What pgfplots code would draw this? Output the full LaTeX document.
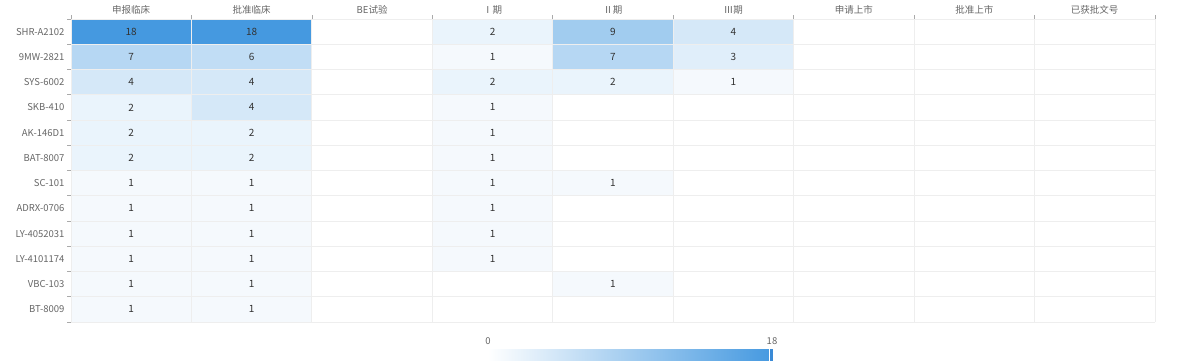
\documentclass[border=0pt]{standalone}
\usepackage{pgfplots}
\pgfplotsset{compat=1.18}
\usepackage{fontspec}
\setmainfont{Noto Sans CJK SC}
\definecolor{gridc}{HTML}{EEEEEE}
\definecolor{tickc}{HTML}{AAAAAA}
\definecolor{labc}{HTML}{666666}
\definecolor{numc}{HTML}{333333}
\definecolor{handlec}{RGB}{58,138,214}
\pgfplotsset{/pgf/number format/assume math mode=true}
\begin{document}
\begin{tikzpicture}
\begin{axis}[
  at={(71pt,38pt)}, anchor=south west,
  scale only axis, width=1084pt, height=303pt,
  xmin=-0.5, xmax=8.5, ymin=-0.5, ymax=11.5, y dir=reverse,
  xtick={0,...,8},
  xticklabels={申报临床,批准临床,BE试验,Ⅰ期,Ⅱ期,Ⅲ期,申请上市,批准上市,已获批文号},
  ytick={0,...,11},
  yticklabels={SHR-A2102,9MW-2821,SYS-6002,SKB-410,AK-146D1,BAT-8007,SC-101,ADRX-0706,LY-4052031,LY-4101174,VBC-103,BT-8009},
  xticklabel pos=upper,
  xtick pos=right, ytick pos=left,
  minor xtick={-0.5,0.5,...,8.5}, minor ytick={-0.5,0.5,...,11.5},
  xminorgrids, yminorgrids,
  minor grid style={gridc, line width=0.8pt},
  major tick length=0pt, minor tick length=4pt,
  tick align=outside,
  every minor tick/.append style={tickc, line width=0.6pt},
  axis line style={draw=none},
  axis on top,
  ticklabel style={labc, font=\fontsize{9.5}{11}\selectfont},
  xticklabel style={yshift=1pt},
  yticklabel style={xshift=-3pt},
  colormap={bluemap}{rgb255(0)=(255,255,255); rgb255(18)=(69,153,224)},
  point meta min=0, point meta max=18,
  colorbar horizontal,
  colorbar style={
    at={(0.3847,-0.0891)}, anchor=north west,
    scale only axis, width=284pt, height=13pt,
    xtick={0,18}, xticklabel pos=upper, xtick pos=right,
    major tick length=0pt,
    axis line style={draw=none},
    xticklabel style={labc, font=\fontsize{9.5}{11}\selectfont, yshift=1pt},
    after end axis/.code={
      \fill[handlec, draw=white, line width=0.4pt] (rel axis cs:0.989,0) rectangle (rel axis cs:1.004,1.05);
    },
  },
]
\addplot[matrix plot*, mesh/cols=9, point meta=explicit] coordinates {
(0,0) [18] (1,0) [18] (2,0) [0] (3,0) [2] (4,0) [9] (5,0) [4] (6,0) [0] (7,0) [0] (8,0) [0]
(0,1) [7] (1,1) [6] (2,1) [0] (3,1) [1] (4,1) [7] (5,1) [3] (6,1) [0] (7,1) [0] (8,1) [0]
(0,2) [4] (1,2) [4] (2,2) [0] (3,2) [2] (4,2) [2] (5,2) [1] (6,2) [0] (7,2) [0] (8,2) [0]
(0,3) [2] (1,3) [4] (2,3) [0] (3,3) [1] (4,3) [0] (5,3) [0] (6,3) [0] (7,3) [0] (8,3) [0]
(0,4) [2] (1,4) [2] (2,4) [0] (3,4) [1] (4,4) [0] (5,4) [0] (6,4) [0] (7,4) [0] (8,4) [0]
(0,5) [2] (1,5) [2] (2,5) [0] (3,5) [1] (4,5) [0] (5,5) [0] (6,5) [0] (7,5) [0] (8,5) [0]
(0,6) [1] (1,6) [1] (2,6) [0] (3,6) [1] (4,6) [1] (5,6) [0] (6,6) [0] (7,6) [0] (8,6) [0]
(0,7) [1] (1,7) [1] (2,7) [0] (3,7) [1] (4,7) [0] (5,7) [0] (6,7) [0] (7,7) [0] (8,7) [0]
(0,8) [1] (1,8) [1] (2,8) [0] (3,8) [1] (4,8) [0] (5,8) [0] (6,8) [0] (7,8) [0] (8,8) [0]
(0,9) [1] (1,9) [1] (2,9) [0] (3,9) [1] (4,9) [0] (5,9) [0] (6,9) [0] (7,9) [0] (8,9) [0]
(0,10) [1] (1,10) [1] (2,10) [0] (3,10) [0] (4,10) [1] (5,10) [0] (6,10) [0] (7,10) [0] (8,10) [0]
(0,11) [1] (1,11) [1] (2,11) [0] (3,11) [0] (4,11) [0] (5,11) [0] (6,11) [0] (7,11) [0] (8,11) [0]
};
\addplot[only marks, mark=none, point meta=explicit, nodes near coords,
  nodes near coords align={center},
  every node near coord/.append style={numc, font=\fontsize{10}{12}\selectfont}] coordinates {
(0,0) [18] (1,0) [18] (3,0) [2] (4,0) [9] (5,0) [4]
(0,1) [7] (1,1) [6] (3,1) [1] (4,1) [7] (5,1) [3]
(0,2) [4] (1,2) [4] (3,2) [2] (4,2) [2] (5,2) [1]
(0,3) [2] (1,3) [4] (3,3) [1]
(0,4) [2] (1,4) [2] (3,4) [1]
(0,5) [2] (1,5) [2] (3,5) [1]
(0,6) [1] (1,6) [1] (3,6) [1] (4,6) [1]
(0,7) [1] (1,7) [1] (3,7) [1]
(0,8) [1] (1,8) [1] (3,8) [1]
(0,9) [1] (1,9) [1] (3,9) [1]
(0,10) [1] (1,10) [1] (4,10) [1]
(0,11) [1] (1,11) [1]
};
\end{axis}
\pgfresetboundingbox
\path (0,0) rectangle (1188pt,360pt);
\end{tikzpicture}
\end{document}
